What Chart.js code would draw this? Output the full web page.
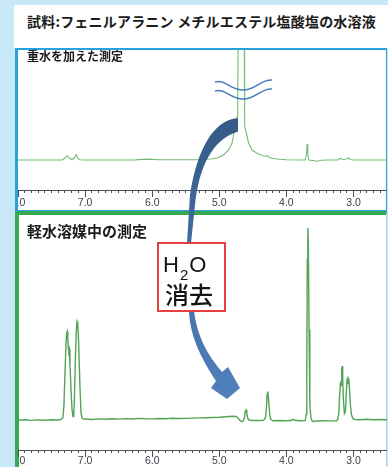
<!DOCTYPE html>
<html lang="ja">
<head>
<meta charset="utf-8">
<title>フェニルアラニン メチルエステル塩酸塩 ¹H-NMR</title>
<script src="https://cdn.jsdelivr.net/npm/chart.js@4.4.1/dist/chart.umd.min.js"></script>
<style>
  html, body { margin: 0; padding: 0; }
  body { position: relative; width: 388px; height: 467px; overflow: hidden; background: #c8e8f7;
         font-family: "Noto Sans CJK JP", sans-serif; color: #1b1b1b; }
  .abs { position: absolute; }
  #titleBox { left: 14px; top: 5px; width: 374px; height: 44px; background: #fff; }
  #title { left: 27px; top: 11px; font-size: 14px; line-height: 20px; font-weight: 700; white-space: nowrap;
           letter-spacing: 0.2px; }
  #panelTop { left: 15px; top: 48px; width: 372px; height: 164px; box-sizing: border-box; background: #fff;
              border-style: solid; border-color: #27a2dc; border-width: 2px 1px 2px 3px; }
  #panelBottom { left: 15px; top: 211px; width: 372px; height: 262px; box-sizing: border-box; background: #fff;
                 border-style: solid; border-color: #37a955; border-width: 4px 1px 0 4px; border-right-color: #a9d8ee; }
  #chartTop { left: 18px; top: 50px; }
  #chartBottom { left: 18px; top: 215px; }
  .plabel { font-weight: 700; white-space: nowrap; }
  #labelTop { left: 27px; top: 49px; font-size: 12px; line-height: 14px; }
  #labelBottom { left: 27px; top: 222px; font-size: 15px; line-height: 18px; }
  #overlay { left: 0; top: 0; }
  #h2oBox { left: 157px; top: 242px; width: 69px; height: 70px; box-sizing: border-box; background: #fff;
            border: 2px solid #e5403f; }
  #h2oLine { left: 163px; top: 253px; font-family: "Liberation Sans", Arial, sans-serif; font-size: 22px;
             line-height: 24px; white-space: nowrap; color: #141414; }
  #h2oLine sub { font-size: 15px; vertical-align: baseline; position: relative; top: 8px; margin: 0 1px; }
  #elimLine { left: 165px; top: 282px; font-size: 24px; line-height: 24px; font-weight: 500; white-space: nowrap;
              color: #141414; }
</style>
</head>
<body>
<div id="titleBox" class="abs"></div>
<div id="title" class="abs">試料:フェニルアラニン メチルエステル塩酸塩の水溶液</div>
<div id="panelTop" class="abs"></div>
<div id="panelBottom" class="abs"></div>
<canvas id="chartTop" class="abs" width="369" height="160"></canvas>
<canvas id="chartBottom" class="abs" width="369" height="252"></canvas>
<div id="labelTop" class="abs plabel">重水を加えた測定</div>
<div id="labelBottom" class="abs plabel">軽水溶媒中の測定</div>

<svg id="overlay" class="abs" width="388" height="467" viewBox="0 0 388 467">
  <defs>
    <linearGradient id="arrowFill" gradientUnits="userSpaceOnUse" x1="0" y1="118" x2="0" y2="398">
      <stop offset="0" stop-color="#355b87"/>
      <stop offset="1" stop-color="#4f80bb"/>
    </linearGradient>
  </defs>
  <!-- break marks across the truncated HDO peak -->
  <g fill="none" stroke="#4a7cc0" stroke-width="1.6">
    <path d="M215,82 C225,79 230,90 243,90 C256,90 261,79 272,80"/>
    <path d="M215,91 C225,88 230,99 243,99 C256,99 261,88 272,89"/>
  </g>
  <!-- curved arrow from the water peak down to the H2O spectrum -->
  <path fill="url(#arrowFill)" d="M238,118 C213,120 197,150 190,195 L187,243 L191,243 L195,205 C199,166 213,139 238,131.5 Z"/>
  <path fill="url(#arrowFill)" d="M189,311 C190,338 203,361 216,381 L211,388 L227,399 L240,388 L228,367 L222,372 C207,354 197,336 194,311 Z"/>
</svg>

<div id="h2oBox" class="abs"></div>
<div id="h2oLine" class="abs">H<sub>2</sub>O</div>
<div id="elimLine" class="abs">消去</div>

<script>
// Chemical-shift window (ppm) and the labelled shift values on each ruler
const ppmRange = [2.5, 8.0];
const shiftLabels = [8.0, 7.0, 6.0, 5.0, 4.0, 3.0];

// Spectrum after D2O exchange: shift (ppm) and signal height
const shiftD2O = [
  8.00, 7.60, 7.40, 7.34, 7.30, 7.27, 7.245, 7.20, 7.16, 7.13,
  7.11, 7.08, 7.00, 6.60, 6.25, 6.15, 6.08, 6.00, 5.90, 5.60,
  5.30, 5.13, 5.03, 4.94, 4.86, 4.81, 4.787, 4.761, 4.735, 4.725,
  4.718, 4.71, 4.69, 4.67, 4.65, 4.635, 4.627, 4.622, 4.597, 4.563,
  4.512, 4.437, 4.36, 4.30, 4.28, 4.255, 4.15, 4.00, 3.80, 3.72,
  3.70, 3.69, 3.68, 3.665, 3.60, 3.54, 3.48, 3.40, 3.23, 3.20,
  3.17, 3.14, 3.10, 3.075, 3.05, 3.00, 2.80, 2.50
];
const signalD2O = [
  0, 0, 0, 0, 2, 4.5, 2.5, 0.5, 2, 5.5,
  2, 0.2, 0, 0, 0.1, 0.6, 0.9, 0.6, 0.2, 0.3,
  0.4, 1.0, 2.0, 5, 10, 16.7, 25, 33, 43, 60,
  120, 200, 300, 340, 300, 200, 120, 34, 27, 17,
  10, 6.7, 4.5, 3.5, 4.5, 2.5, 1, 0.3, 0, 0,
  6, 16, 6, 0, -0.5, -1.2, -0.3, 0, 0, 1.8,
  0.8, 0.5, 1.2, 2, 0.5, 0, 0, 0
];

// Spectrum in ordinary water (solvent signal suppressed)
const shiftH2O = [
  8.00, 7.90, 7.80, 7.70, 7.60, 7.50, 7.42, 7.36, 7.33, 7.315,
  7.30, 7.285, 7.275, 7.265, 7.258, 7.25, 7.243, 7.235, 7.225, 7.21,
  7.195, 7.18, 7.17, 7.16, 7.145, 7.13, 7.12, 7.11, 7.10, 7.09,
  7.075, 7.06, 7.045, 7.02, 6.90, 6.80, 6.70, 6.60, 6.50, 6.40,
  6.30, 6.20, 6.10, 6.00, 5.90, 5.80, 5.70, 5.60, 5.50, 5.40,
  5.30, 5.20, 5.10, 5.00, 4.90, 4.80, 4.75, 4.72, 4.69, 4.665,
  4.645, 4.625, 4.61, 4.60, 4.59, 4.575, 4.555, 4.50, 4.40, 4.34,
  4.31, 4.295, 4.285, 4.275, 4.265, 4.25, 4.235, 4.20, 4.10, 4.00,
  3.93, 3.90, 3.87, 3.80, 3.72, 3.705, 3.695, 3.688, 3.68, 3.672,
  3.662, 3.65, 3.635, 3.615, 3.59, 3.55, 3.45, 3.35, 3.25, 3.235,
  3.22, 3.205, 3.195, 3.185, 3.175, 3.168, 3.16, 3.15, 3.135, 3.12,
  3.105, 3.095, 3.085, 3.078, 3.07, 3.06, 3.045, 3.03, 3.01, 2.98,
  2.90, 2.80, 2.70, 2.60, 2.50
];
const signalH2O = [
  -0.8, -0.3, -0.9, -0.4, -0.7, -0.2, -0.5, 0, 2, 15,
  45, 75, 86, 88, 82, 72, 68, 70, 55, 30,
  10, 3, 4, 18, 60, 90, 98, 96, 85, 62,
  30, 6, 1.5, 0.5, 0, 0.6, 0.2, 0.8, 0.4, 0.9,
  0.5, 1.1, 0.7, 0.6, 1.0, 0.8, 1.2, 1.0, 1.1, 1.4,
  1.6, 1.8, 2.0, 2.2, 2.8, 3.2, 3.0, 1.5, -1, -2.2,
  -1.5, 2, 8.5, 9.5, 6, 1, -0.5, -1, -1, -0.8,
  2, 14, 26, 28, 20, 6, 0.5, -1.2, -1, -1.3,
  -1, 0.2, -0.8, -1.2, -1, 5, 60, 160, 191.5, 175,
  90, 15, 2, -1.5, -2, -1.5, -1.2, -1.4, -1.2, 0,
  5, 25, 36, 34, 50, 53.5, 40, 20, 6, 8,
  28, 40, 43, 36, 41, 32, 14, 5, 1, 0,
  -0.3, 0.2, -0.2, 0, -0.3
];

const RULER = '#4d4f57';

// One spectrum panel: reversed ppm ruler with 0.1 ppm minor ticks and labelled 1 ppm ticks
function spectrumChart(canvasId, shifts, signals, o) {
  const noSidePadding = s => { s.paddingLeft = 0; s.paddingRight = 0; };
  return new Chart(document.getElementById(canvasId), {
    type: 'line',
    data: {
      datasets: [{
        data: shifts.map((x, i) => ({ x, y: signals[i] })),
        borderColor: o.color,
        borderWidth: o.width,
        pointRadius: 0,
        tension: 0,
        fill: false
      }]
    },
    options: {
      responsive: false,
      animation: false,
      events: [],
      layout: { padding: 0 },
      plugins: { legend: { display: false }, tooltip: { enabled: false } },
      scales: {
        minor: {
          type: 'linear', axis: 'x', position: 'bottom', weight: 0, reverse: true,
          min: ppmRange[0], max: ppmRange[1],
          ticks: { display: false, stepSize: 0.1, includeBounds: false },
          grid: { drawOnChartArea: false, drawTicks: true, tickLength: 3, color: RULER },
          border: { display: false },
          afterFit: s => { s.height = 0; noSidePadding(s); }
        },
        x: {
          type: 'linear', position: 'bottom', weight: 1, reverse: true,
          min: ppmRange[0], max: ppmRange[1],
          afterBuildTicks: s => { s.ticks = shiftLabels.map(v => ({ value: v })); },
          ticks: {
            autoSkip: false, maxRotation: 0, minRotation: 0, padding: o.labelPad,
            color: '#3c4048', font: { family: 'Liberation Sans', size: 10.5 },
            callback: v => Number(v).toFixed(1)
          },
          grid: { drawOnChartArea: false, drawTicks: true, tickLength: 7, color: RULER },
          border: { display: true, color: RULER, width: 1 },
          afterFit: s => { s.height = o.axisHeight; noSidePadding(s); }
        },
        y: { display: false, min: o.yMin, max: o.yMax }
      }
    }
  });
}

spectrumChart('chartTop', shiftD2O, signalD2O,
  { color: '#74bb74', width: 1.1, yMin: -30, yMax: 110, axisHeight: 20, labelPad: 0 });
spectrumChart('chartBottom', shiftH2O, signalH2O,
  { color: '#52a456', width: 1.4, yMin: -30.5, yMax: 204.5, axisHeight: 17, labelPad: -2.5 });
</script>
</body>
</html>
